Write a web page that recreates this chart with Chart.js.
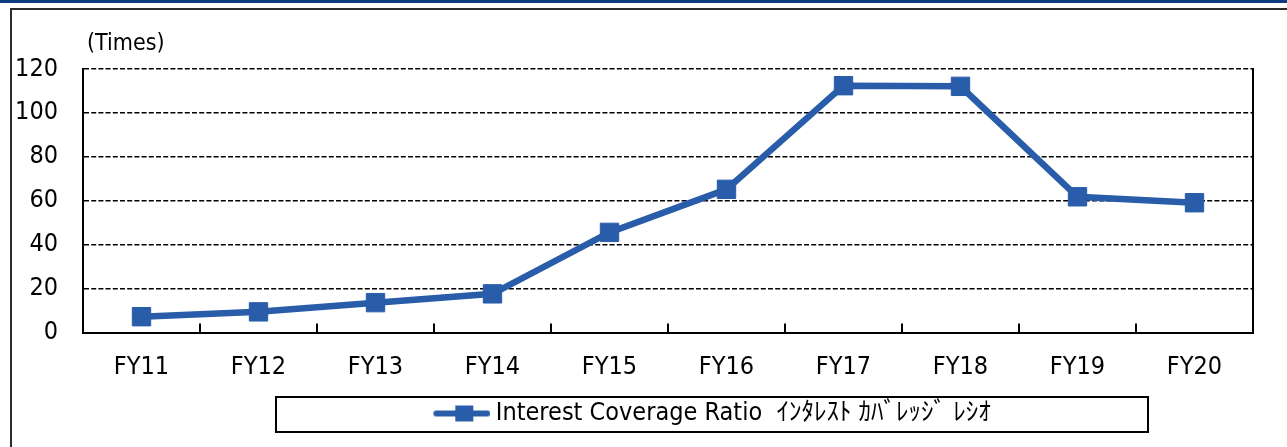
<!DOCTYPE html>
<html>
<head>
<meta charset="utf-8">
<script src="https://cdn.jsdelivr.net/npm/chart.js@4"></script>
<style>
html,body{margin:0;padding:0;background:#fff;}
#wrap{position:relative;width:1287px;height:447px;overflow:hidden;}
#band{position:absolute;left:0;top:0;width:1287px;height:3px;background:#0e3b7b;}
#frame{position:absolute;left:10px;top:8px;width:1400px;height:600px;border-top:2px solid #2b2b2b;border-left:2px solid #2b2b2b;}
canvas{position:absolute;left:0;top:0;}
</style>
</head>
<body>
<div id="wrap"><div id="band"></div><div id="frame"></div><canvas id="c" width="1287" height="447"></canvas></div>
<script>
// ---- data ----
const categories = ['FY11', 'FY12', 'FY13', 'FY14', 'FY15', 'FY16', 'FY17', 'FY18', 'FY19', 'FY20'];
const coverageRatio = [7.2, 9.4, 13.6, 17.6, 45.6, 65.2, 112.4, 112.1, 61.8, 59.1];
const yTickValues = [0, 20, 40, 60, 80, 100, 120];
const seriesLabel = 'Interest Coverage Ratio  ｲﾝﾀﾚｽﾄ ｶﾊﾞﾚｯｼﾞ ﾚｼｵ';
const unitLabel = '(Times)';

// ---- style ----
const BLUE = '#295DA9';
const FONT = '"DejaVu Sans Condensed", "Noto Sans CJK JP", sans-serif';

function legendSample() {
  const c = document.createElement('canvas');
  c.width = 64; c.height = 22;
  const g = c.getContext('2d');
  g.strokeStyle = BLUE; g.lineWidth = 6; g.lineCap = 'round';
  g.beginPath(); g.moveTo(10, 11); g.lineTo(61, 11); g.stroke();
  g.fillStyle = BLUE; g.fillRect(29, 3, 18, 16);
  return c;
}

const decor = {
  id: 'decor',
  afterLayout(chart) {
    const lg = chart.legend;
    if (lg) { lg.left = 276; lg.right = 1148; }
  },
  afterDraw(chart) {
    const { ctx, chartArea: a, scales: { x } } = chart;
    ctx.save();
    ctx.strokeStyle = '#000';
    ctx.lineWidth = 2;
    ctx.beginPath();
    ctx.moveTo(a.right, a.top - 1); ctx.lineTo(a.right, a.bottom + 1);
    for (let i = 1; i < categories.length; i++) {
      const px = Math.round((x.getPixelForTick(i - 1) + x.getPixelForTick(i)) / 2);
      ctx.moveTo(px, a.bottom); ctx.lineTo(px, a.bottom - 9);
    }
    ctx.stroke();
    // legend frame
    const lg = chart.legend;
    ctx.strokeRect(lg.left, lg.top, lg.right - lg.left, 35);
    // unit label
    ctx.fillStyle = '#000';
    ctx.font = '23px ' + FONT;
    ctx.textAlign = 'left';
    ctx.textBaseline = 'alphabetic';
    ctx.fillText(unitLabel, a.left + 4, a.top - 19);
    ctx.restore();
  }
};

new Chart(document.getElementById('c'), {
  type: 'line',
  data: {
    labels: categories,
    datasets: [{
      label: seriesLabel,
      data: coverageRatio,
      borderColor: BLUE,
      backgroundColor: BLUE,
      borderWidth: 6.5,
      tension: 0,
      pointStyle: 'rect',
      pointRadius: 13,
      pointBorderWidth: 1,
      pointBackgroundColor: BLUE,
      pointBorderColor: BLUE
    }]
  },
  options: {
    responsive: false,
    animation: false,
    devicePixelRatio: 1,
    layout: { padding: { left: 13, right: 34, top: 69, bottom: 11 } },
    plugins: {
      legend: {
        position: 'bottom',
        labels: {
          usePointStyle: true,
          pointStyle: legendSample(),
          pointStyleWidth: 50,
          padding: 4,
          color: '#000',
          font: { family: FONT, size: 25 }
        }
      },
      tooltip: { enabled: false }
    },
    scales: {
      x: {
        offset: true,
        grid: { display: true, offset: true, drawOnChartArea: false, drawTicks: false },
        border: { display: true, color: '#000', width: 2 },
        ticks: { color: '#000', padding: 20, font: { family: FONT, size: 25 } },
        afterFit(s) { s.height = 64.5; }
      },
      y: {
        min: 0, max: 120,
        afterBuildTicks(s) { s.ticks = yTickValues.map(v => ({ value: v })); },
        grid: { color: '#000', lineWidth: 1.6, drawTicks: false },
        border: { display: true, color: '#000', width: 2, dash: [5, 2.2] },
        ticks: { color: '#000', padding: 25, font: { family: FONT, size: 25 } },
        afterFit(s) { s.width = 70; }
      }
    }
  },
  plugins: [decor]
});
</script>
</body>
</html>
